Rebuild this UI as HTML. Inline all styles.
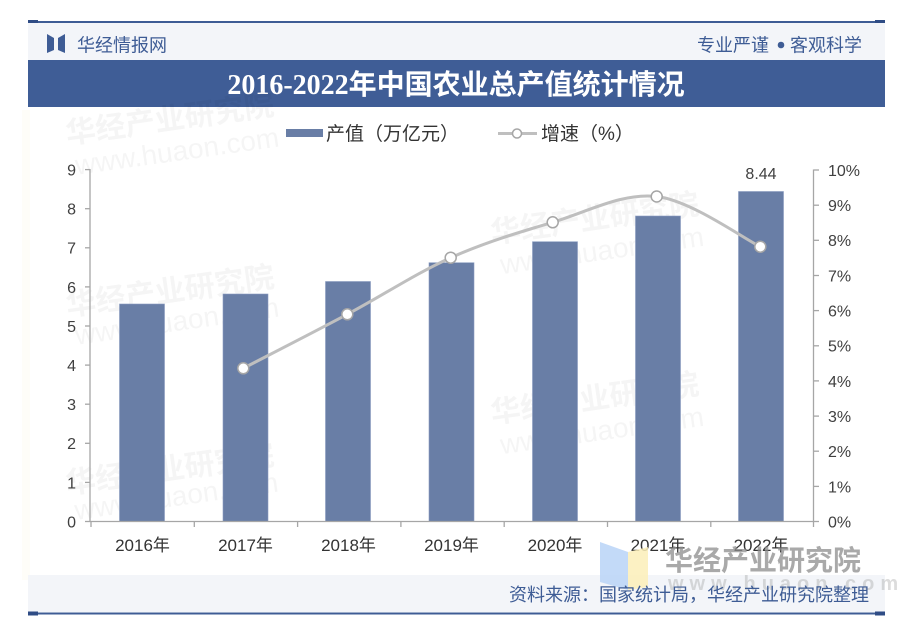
<!DOCTYPE html>
<html><head><meta charset="utf-8"><style>
html,body{margin:0;padding:0;background:#fff;}
svg{display:block;}
</style></head><body>
<svg width="913" height="642" viewBox="0 0 913 642" xmlns="http://www.w3.org/2000/svg">
<rect x="0" y="0" width="913" height="642" fill="#ffffff"/>
<!-- faint background decoration -->
<rect x="22" y="110" width="8" height="470" fill="#fdf9ec" opacity="0.35"/>
<!-- top line -->
<rect x="28" y="21" width="857" height="2" fill="#3e5c95"/>
<rect x="28" y="20" width="10" height="4" fill="#2f4c85"/>
<rect x="875" y="20" width="10" height="4" fill="#2f4c85"/>
<!-- header band -->
<rect x="28" y="23" width="857" height="37" fill="#f3f5f9"/>
<!-- logo -->
<polygon points="47,34 54,38 54,50 47,53" fill="#3e5c95"/>
<polygon points="65,34 58,38 58,50 65,53" fill="#3e5c95"/>
<text x="77" y="51.5" font-family="'Liberation Sans','Noto Sans CJK SC',sans-serif" font-size="18" fill="#3e5c95">华经情报网</text>
<text x="697" y="51.5" font-family="'Liberation Sans','Noto Sans CJK SC',sans-serif" font-size="18" fill="#3e5c95">专业严谨</text>
<circle cx="781" cy="45" r="3.3" fill="#3e5c95"/>
<text x="790" y="51.5" font-family="'Liberation Sans','Noto Sans CJK SC',sans-serif" font-size="18" fill="#3e5c95">客观科学</text>
<!-- title band -->
<rect x="28" y="60" width="857" height="47" fill="#3f5d96"/>
<text x="456" y="94" text-anchor="middle" font-family="'Liberation Serif','Noto Sans CJK SC',serif" font-weight="bold" font-size="28" fill="#ffffff">2016-2022年中国农业总产值统计情况</text>

<!-- watermarks (faint) -->
<g font-family="'Liberation Sans','Noto Sans CJK SC',sans-serif" fill="#000" opacity="0.04">
<g transform="rotate(-8 180 120)"><text x="65" y="128" font-size="30" font-weight="bold">华经产业研究院</text><text x="70" y="160" font-size="28">www.huaon.com</text></g>
<g transform="rotate(-8 180 290)"><text x="65" y="300" font-size="30" font-weight="bold">华经产业研究院</text><text x="70" y="330" font-size="28">www.huaon.com</text></g>
<g transform="rotate(-8 600 220)"><text x="490" y="228" font-size="30" font-weight="bold">华经产业研究院</text><text x="495" y="260" font-size="28">www.huaon.com</text></g>
<g transform="rotate(-8 600 400)"><text x="490" y="408" font-size="30" font-weight="bold">华经产业研究院</text><text x="495" y="440" font-size="28">www.huaon.com</text></g>
<g transform="rotate(-8 180 470)"><text x="65" y="478" font-size="30" font-weight="bold">华经产业研究院</text><text x="70" y="505" font-size="28">www.huaon.com</text></g>
</g>

<!-- legend -->
<rect x="286" y="129" width="37" height="8" fill="#697ea6"/>
<text x="326" y="140" font-family="'Liberation Sans','Noto Sans CJK SC',sans-serif" font-size="19" fill="#333">产值（万亿元）</text>
<line x1="498" y1="133.5" x2="537" y2="133.5" stroke="#bfbfbf" stroke-width="3"/>
<circle cx="517" cy="133.5" r="4.5" fill="#fff" stroke="#a6a6a6" stroke-width="1.5"/>
<text x="541" y="140" font-family="'Liberation Sans','Noto Sans CJK SC',sans-serif" font-size="19" fill="#333">增速（%）</text>

<!-- bars -->
<g fill="#697ea6" stroke="#8a9cc0" stroke-width="0.6">
<rect x="119.5" y="304" width="45" height="217.5"/>
<rect x="223" y="294" width="45" height="227.5"/>
<rect x="325.5" y="281.5" width="45" height="240"/>
<rect x="429" y="262.7" width="45" height="258.8"/>
<rect x="532.5" y="241.7" width="45" height="279.8"/>
<rect x="635.5" y="216" width="45" height="305.5"/>
<rect x="738.5" y="191.5" width="45" height="330"/>
</g>
<text x="761" y="179" text-anchor="middle" font-family="'Liberation Sans',sans-serif" font-size="16" fill="#404040">8.44</text>

<!-- axes -->
<g stroke="#a6a6a6" stroke-width="1.3" fill="none">
<line x1="90" y1="169" x2="90" y2="521.5"/>
<line x1="813.5" y1="169.5" x2="813.5" y2="521.5"/>
<line x1="90" y1="521.5" x2="813.5" y2="521.5"/>
<line x1="85" y1="169.6" x2="90" y2="169.6"/>
<line x1="85" y1="208.7" x2="90" y2="208.7"/>
<line x1="85" y1="247.8" x2="90" y2="247.8"/>
<line x1="85" y1="286.9" x2="90" y2="286.9"/>
<line x1="85" y1="326" x2="90" y2="326"/>
<line x1="85" y1="365.1" x2="90" y2="365.1"/>
<line x1="85" y1="404.2" x2="90" y2="404.2"/>
<line x1="85" y1="443.3" x2="90" y2="443.3"/>
<line x1="85" y1="482.4" x2="90" y2="482.4"/>
<line x1="85" y1="521.5" x2="90" y2="521.5"/>
<line x1="813.5" y1="170" x2="819" y2="170"/>
<line x1="813.5" y1="205.2" x2="819" y2="205.2"/>
<line x1="813.5" y1="240.3" x2="819" y2="240.3"/>
<line x1="813.5" y1="275.5" x2="819" y2="275.5"/>
<line x1="813.5" y1="310.6" x2="819" y2="310.6"/>
<line x1="813.5" y1="345.8" x2="819" y2="345.8"/>
<line x1="813.5" y1="380.9" x2="819" y2="380.9"/>
<line x1="813.5" y1="416.1" x2="819" y2="416.1"/>
<line x1="813.5" y1="451.2" x2="819" y2="451.2"/>
<line x1="813.5" y1="486.4" x2="819" y2="486.4"/>
<line x1="813.5" y1="521.5" x2="819" y2="521.5"/>
<line x1="91" y1="521.5" x2="91" y2="527"/>
<line x1="194.3" y1="521.5" x2="194.3" y2="527"/>
<line x1="297.6" y1="521.5" x2="297.6" y2="527"/>
<line x1="400.9" y1="521.5" x2="400.9" y2="527"/>
<line x1="504.2" y1="521.5" x2="504.2" y2="527"/>
<line x1="607.5" y1="521.5" x2="607.5" y2="527"/>
<line x1="710.8" y1="521.5" x2="710.8" y2="527"/>
<line x1="813.5" y1="521.5" x2="813.5" y2="527"/>
</g>

<!-- left labels -->
<g font-family="'Liberation Sans',sans-serif" font-size="16" fill="#404040" text-anchor="end">
<text x="76" y="175.5">9</text>
<text x="76" y="214.6">8</text>
<text x="76" y="253.7">7</text>
<text x="76" y="292.8">6</text>
<text x="76" y="331.9">5</text>
<text x="76" y="371">4</text>
<text x="76" y="410.1">3</text>
<text x="76" y="449.2">2</text>
<text x="76" y="488.3">1</text>
<text x="76" y="527.4">0</text>
</g>
<!-- right labels -->
<g font-family="'Liberation Sans',sans-serif" font-size="16" fill="#404040">
<text x="828" y="175.9">10%</text>
<text x="828" y="211.1">9%</text>
<text x="828" y="246.2">8%</text>
<text x="828" y="281.4">7%</text>
<text x="828" y="316.5">6%</text>
<text x="828" y="351.7">5%</text>
<text x="828" y="386.8">4%</text>
<text x="828" y="422">3%</text>
<text x="828" y="457.1">2%</text>
<text x="828" y="492.3">1%</text>
<text x="828" y="527.4">0%</text>
</g>
<!-- x labels -->
<g font-family="'Liberation Sans','Noto Sans CJK SC',sans-serif" font-size="17" fill="#333" text-anchor="middle">
<text x="142.5" y="551">2016年</text>
<text x="245.5" y="551">2017年</text>
<text x="348.5" y="551">2018年</text>
<text x="451.5" y="551">2019年</text>
<text x="555" y="551">2020年</text>
<text x="658" y="551">2021年</text>
<text x="761" y="551">2022年</text>
</g>

<!-- growth line -->
<path d="M243.3,368.3 C260.6,359.3 312.7,332.7 347.3,314.3 C381.9,295.9 416.5,273.0 450.7,257.7 C484.9,242.4 518.4,232.5 552.7,222.3 C587.0,212.1 622.1,192.4 656.7,196.5 C691.3,200.6 743.0,238.3 760.3,246.7" fill="none" stroke="#bfbfbf" stroke-width="3"/>
<g fill="#fff" stroke="#a6a6a6" stroke-width="1.5">
<circle cx="243.3" cy="368.3" r="5.5"/>
<circle cx="347.3" cy="314.3" r="5.5"/>
<circle cx="450.7" cy="257.7" r="5.5"/>
<circle cx="552.7" cy="222.3" r="5.5"/>
<circle cx="656.7" cy="196.5" r="5.5"/>
<circle cx="760.3" cy="246.7" r="5.5"/>
</g>

<!-- footer band -->
<rect x="28" y="575" width="857" height="37" fill="#f3f5f9"/>
<!-- bottom-right watermark logo -->
<polygon points="600,542 628,552 628,590 600,582" fill="#b9d3f7" opacity="0.85"/>
<polygon points="628,552 648,547 648,587 628,590" fill="#fbeeb8" opacity="0.85"/>
<text x="665" y="570" font-family="'Liberation Sans','Noto Sans CJK SC',sans-serif" font-size="28" font-weight="bold" fill="#8c8c8c" opacity="0.75">华经产业研究院</text>
<text x="668" y="590" font-family="'Liberation Sans',sans-serif" font-size="20" font-weight="bold" fill="#8c8c8c" opacity="0.3" letter-spacing="6">www.huaon.com</text>
<text x="869" y="601" text-anchor="end" font-family="'Liberation Sans','Noto Sans CJK SC',sans-serif" font-size="18" fill="#3e5c95">资料来源：国家统计局，华经产业研究院整理</text>
<!-- bottom line -->
<rect x="28" y="612.5" width="857" height="2" fill="#3e5c95"/>
<rect x="28" y="611.5" width="10" height="4" fill="#2f4c85"/>
<rect x="875" y="611.5" width="10" height="4" fill="#2f4c85"/>
</svg>
</body></html>
